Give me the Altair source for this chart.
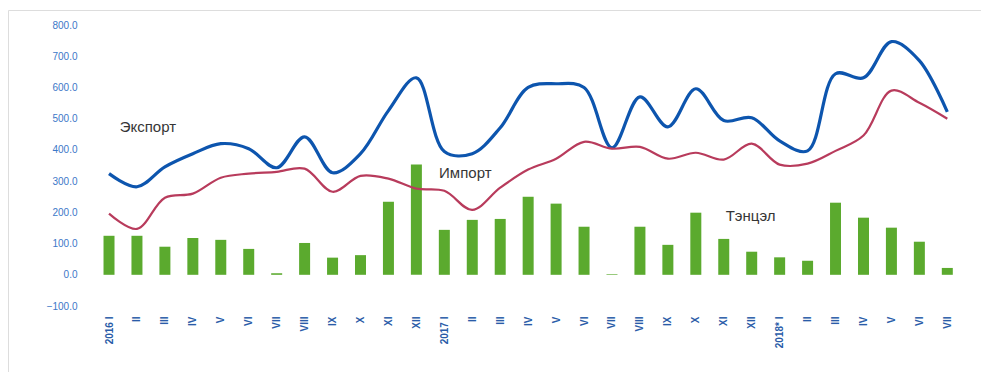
import altair as alt
import pandas as pd

months = ["I", "II", "III", "IV", "V", "VI", "VII", "VIII", "IX", "X", "XI", "XII"]
tick_labels = ["2016 I"] + months[1:] + ["2017 I"] + months[1:] + ["2018* I"] + months[1:7]

export_vals = [324, 282, 346, 388, 420, 404, 343, 442, 327, 388, 526, 631,
               395, 388, 471, 600, 612, 600, 407, 570, 474, 596, 494, 503,
               429, 397, 644, 631, 747, 686, 522]
import_vals = [196, 147, 247, 260, 311, 324, 330, 340, 266, 317, 308, 276,
               269, 208, 279, 337, 372, 426, 404, 410, 372, 391, 369, 420,
               353, 356, 397, 446, 590, 551, 500]
balance_vals = [125, 125, 90, 118, 112, 83, 5, 102, 55, 63, 234, 353,
                144, 176, 179, 250, 228, 154, 2, 154, 96, 199, 115, 74,
                56, 45, 231, 183, 151, 106, 22]

y_ticks = [-100, 0, 100, 200, 300, 400, 500, 600, 700, 800]

ann_text = ["Экспорт", "Импорт", "Тэнцэл"]
ann_pos = [1.39, 12.75, 22.96]
ann_val = [473, 326, 188]

idx = list(range(len(tick_labels)))
df = pd.DataFrame({"idx": idx, "export": export_vals, "import": import_vals, "balance": balance_vals})
ann = pd.DataFrame({"pos": ann_pos, "value": ann_val, "text": ann_text})

label_expr = "[" + ",".join("'" + t + "'" for t in tick_labels) + "][datum.value]"

xscale = alt.Scale(domain=[-3.436, 31.027], nice=False, zero=False)
yscale = alt.Scale(domain=[-311.3, 848.2], nice=False, zero=False)

x_axis = alt.Axis(title=None, values=idx, tickCount=31, labelExpr=label_expr, labelAngle=270, ticks=False,
                  domain=False, grid=False, offset=-59, labelPadding=3, labelColor="#2A5CA8",
                  labelFont="Liberation Sans", labelFontSize=10, labelFontWeight="bold",
                  labelAlign="right", labelBaseline="middle", labelFlush=False, labelOverlap=False,
                  labelSeparation=0)

bars = alt.Chart(df).mark_bar(color="#5BAA2E", size=11).encode(
    x=alt.X("idx:Q", scale=xscale, axis=x_axis),
    y=alt.Y("balance:Q", scale=yscale,
            axis=alt.Axis(title=None, values=y_ticks, format=".1f", grid=False, ticks=False,
                          domain=False, offset=-71, labelPadding=2, labelColor="#3C78C8",
                          labelFont="Liberation Sans", labelFontSize=10)),
)

line_exp = alt.Chart(df).mark_line(color="#0D55AE", strokeWidth=3.2, interpolate="catmull-rom").encode(
    x=alt.X("idx:Q"), y=alt.Y("export:Q"))
line_imp = alt.Chart(df).mark_line(color="#B83B5C", strokeWidth=2.2, interpolate="catmull-rom").encode(
    x=alt.X("idx:Q"), y=alt.Y("import:Q"))

text = alt.Chart(ann).mark_text(font="Liberation Sans", fontSize=15, color="#363636", align="center").encode(
    x=alt.X("pos:Q"),
    y=alt.Y("value:Q"),
    text="text:N",
)

chart = alt.layer(bars, line_exp, line_imp, text).properties(
    width=973, height=362, padding={"left": 0, "top": 2, "right": 0, "bottom": 0}
).configure_view(stroke="#8c8c8c", strokeWidth=1.5).configure(background="white").configure_axisX(
    labelOverlap=False)

chart.save("out.html", embed_options={"renderer": "svg", "actions": False})
